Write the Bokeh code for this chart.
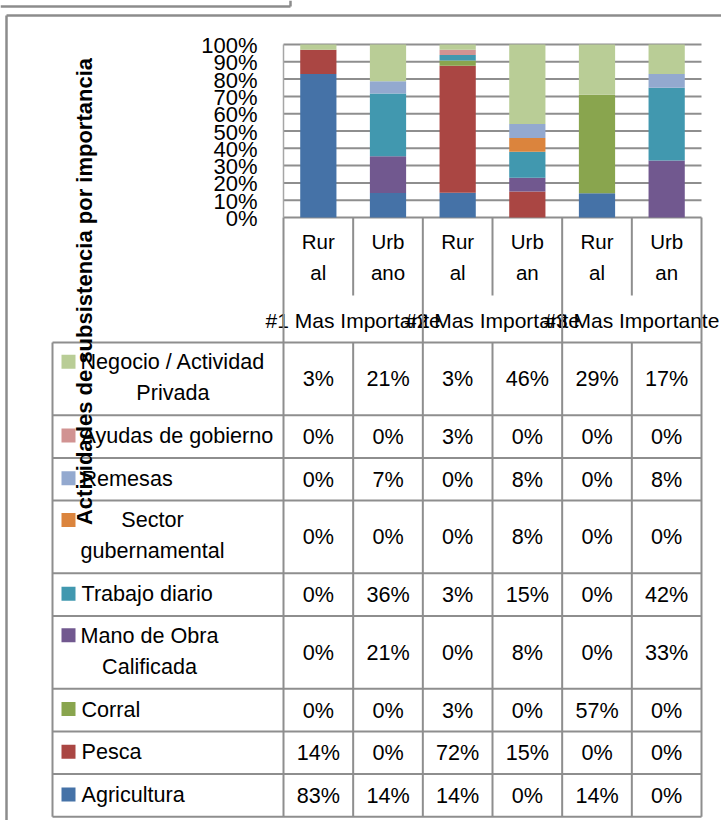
import numpy as np
from bokeh.plotting import figure
from bokeh.models import Range1d
from bokeh.core.properties import value
from bokeh.embed import file_html
from bokeh.resources import INLINE

# ---------------- data ----------------
groups = ["#1 Mas Importante", "#2 Mas Importante", "#3 Mas Importante"]
categories = ["Rur\nal", "Urb\nano", "Rur\nal", "Urb\nan", "Rur\nal", "Urb\nan"]

series_names = [
    "Agricultura",
    "Pesca",
    "Corral",
    "Mano de Obra\nCalificada",
    "Trabajo diario",
    "Sector\ngubernamental",
    "Remesas",
    "Ayudas de gobierno",
    "Negocio / Actividad\nPrivada",
]
agricultura = [83, 14, 14, 0, 14, 0]
pesca = [14, 0, 72, 15, 0, 0]
corral = [0, 0, 3, 0, 57, 0]
mano_obra = [0, 21, 0, 8, 0, 33]
trabajo_diario = [0, 36, 3, 15, 0, 42]
sector_gub = [0, 0, 0, 8, 0, 0]
remesas = [0, 7, 0, 8, 0, 8]
ayudas_gob = [0, 0, 3, 0, 0, 0]
negocio = [3, 21, 3, 46, 29, 17]
series_values = [agricultura, pesca, corral, mano_obra, trabajo_diario,
                 sector_gub, remesas, ayudas_gob, negocio]
series_colors = ["#4572A7", "#AA4643", "#89A54E", "#71588F", "#4198AF",
                 "#DB843D", "#93A9CF", "#D19392", "#B9CD96"]
y_ticks = list(range(0, 101, 10))
y_title = "Actividades de subsistencia por importancia"

# ---------------- layout ----------------
M = 0                 # the page puts the figure at its top-left corner
W, H = 721, 820       # figure size
PL, PR, PT, PB = 283, 701, 44, 217   # plot area (page px)
TT = 342              # table top
TL = 52               # table left
GRID = "#8e8e8e"
FONT = "Liberation Sans"
FS = 21.6

ncat = len(categories)
cw = (PR - PL) / ncat
ky = (PB - PT) / 100.0

p = figure(
    width=W, height=H,
    x_range=Range1d(-0.5 + (M - PL) / cw, -0.5 + (M + W - PL) / cw),
    y_range=Range1d((PB - (M + H)) / ky, (PB - M) / ky),
    output_backend="svg", toolbar_location=None,
    x_axis_location=None, y_axis_location=None,
    min_border=0, outline_line_color=None,
    background_fill_color="white", border_fill_color="white",
)
p.xgrid.visible = False
p.ygrid.visible = False
p.extra_x_ranges = {"px": Range1d(M, M + W)}
p.extra_y_ranges = {"py": Range1d(M + H, M)}

# outer frame pieces
p.segment(x0=[0, 290], x1=[290, 290], y0=[6, 0], y1=[6, 6],
          x_range_name="px", y_range_name="py", line_color="#8c8c8c", line_width=2.5)
p.segment(x0=[6, 6], x1=[721, 6], y0=[15, 15], y1=[15, 820],
          x_range_name="px", y_range_name="py", line_color="#8c8c8c", line_width=2.5)

# gridlines + value axis line
x_lo, x_hi = -0.5, ncat - 0.5
nt = len(y_ticks)
p.segment(x0=[x_lo] * nt, x1=[x_hi] * nt, y0=y_ticks, y1=y_ticks,
          line_color=GRID, line_width=2)
p.segment(x0=[x_lo], x1=[x_lo], y0=[y_ticks[0]], y1=[y_ticks[-1]],
          line_color="#a6a6a6", line_width=1.5)

# stacked 100% bars
vals = np.array(series_values, dtype=float)
shares = vals / vals.sum(axis=0) * 100.0
tops = np.cumsum(shares, axis=0)
bottoms = tops - shares
idx = np.arange(ncat)
for k in range(len(series_names)):
    p.vbar(x=idx, width=0.52, bottom=bottoms[k], top=tops[k],
           fill_color=series_colors[k], line_color=None)

# y tick labels
p.text(x=[257] * nt, y=y_ticks, x_range_name="px", y_offset=1,
       text=[f"{t}%" for t in y_ticks], text_font=value(FONT),
       text_font_size="22px", text_align="right", text_baseline="middle",
       text_color="black")

# category labels (two lines)
cat_x, cat_y, cat_t = [], [], []
for i, c in enumerate(categories):
    for j, line in enumerate(c.split("\n")):
        cat_x.append(i)
        cat_y.append(241 + 31 * j)
        cat_t.append(line)
p.text(x=cat_x, y=cat_y, y_range_name="py", text=cat_t,
       text_font=value(FONT), text_font_size="20.5px",
       text_align="center", text_baseline="middle", text_color="black")

# group labels
per = ncat // len(groups)
gx = [g * per + (per - 1) / 2 for g in range(len(groups))]
p.text(x=gx, y=[320] * len(groups), y_range_name="py", text=groups,
       text_font=value(FONT), text_font_size="21px",
       text_align="center", text_baseline="middle", text_color="black")

# separators under the plot area
bounds = np.arange(ncat + 1) - 0.5
major = [b for k, b in enumerate(bounds) if k % per == 0]
minor = [b for k, b in enumerate(bounds) if k % per != 0]
p.segment(x0=major, x1=major, y0=[PB] * len(major), y1=[TT] * len(major),
          y_range_name="py", line_color=GRID, line_width=2)
p.segment(x0=minor, x1=minor, y0=[PB] * len(minor), y1=[295] * len(minor),
          y_range_name="py", line_color=GRID, line_width=2)

# ---------------- data table ----------------
ARIAL = {" ": 278, "/": 278, "A": 667, "C": 722, "M": 833, "N": 722, "O": 778,
         "P": 667, "S": 667, "T": 611, "R": 722, "a": 556, "b": 556, "c": 500,
         "d": 556, "e": 556, "f": 278, "g": 556, "i": 222, "j": 222, "l": 222,
         "m": 833, "n": 556, "o": 556, "p": 556, "r": 333, "s": 500, "t": 278,
         "u": 556, "v": 500, "y": 500}


def text_w(s, size):
    return sum(ARIAL.get(ch, 556) for ch in s) / 1000.0 * size


order = list(range(len(series_names)))[::-1]
row_edges = [TT]
for k in order:
    n = series_names[k].count("\n") + 1
    row_edges.append(row_edges[-1] + 12.7 + 30 * n)
TB = row_edges[-1]

# grid of the table
p.segment(x0=[TL] * len(row_edges), x1=[PR] * len(row_edges),
          y0=row_edges, y1=row_edges, x_range_name="px", y_range_name="py",
          line_color=GRID, line_width=2)
p.segment(x0=[TL], x1=[TL], y0=[TT], y1=[TB], x_range_name="px",
          y_range_name="py", line_color=GRID, line_width=2)
p.segment(x0=list(bounds), x1=list(bounds), y0=[TT] * len(bounds),
          y1=[TB] * len(bounds), y_range_name="py", line_color=GRID, line_width=2)

v_x, v_y, v_t = [], [], []
l_x, l_y, l_t, l_a = [], [], [], []
key_top, key_bot, key_col = [], [], []
for r, k in enumerate(order):
    top, bot = row_edges[r], row_edges[r + 1]
    rc = (top + bot) / 2
    for i in range(ncat):
        v_x.append(i)
        v_y.append(rc)
        v_t.append(f"{series_values[k][i]}%")
    lines = series_names[k].split("\n")
    first = rc - 1 - 16 * (len(lines) - 1)
    key_top.append(first - 7)
    key_bot.append(first + 7)
    key_col.append(series_colors[k])
    if len(lines) == 1:
        l_x.append(81); l_y.append(first); l_t.append(lines[0]); l_a.append("left")
    else:
        cx = 80 + max(text_w(s, FS) for s in lines) / 2
        for j, s in enumerate(lines):
            l_x.append(cx); l_y.append(first + 31 * j); l_t.append(s); l_a.append("center")

p.text(x=v_x, y=v_y, y_range_name="py", text=v_t, text_font=value(FONT),
       text_font_size=f"{FS}px", text_align="center", text_baseline="middle",
       text_color="black")
p.quad(left=[61] * len(key_col), right=[75] * len(key_col), top=key_top,
       bottom=key_bot, fill_color=key_col, line_color=None,
       x_range_name="px", y_range_name="py")
p.text(x=l_x, y=l_y, x_range_name="px", y_range_name="py", text=l_t,
       text_align=l_a, text_font=value(FONT), text_font_size=f"{FS}px",
       text_baseline="middle", text_color="black")

# axis title (rotated, overlapping the table as in the original)
p.text(x=[84], y=[291], x_range_name="px", y_range_name="py", text=[y_title],
       angle=np.pi / 2, text_font=value(FONT), text_font_size="22px",
       text_font_style="bold", text_align="center", text_baseline="middle",
       text_color="black")

open("out.html", "w").write(file_html(p, INLINE))
